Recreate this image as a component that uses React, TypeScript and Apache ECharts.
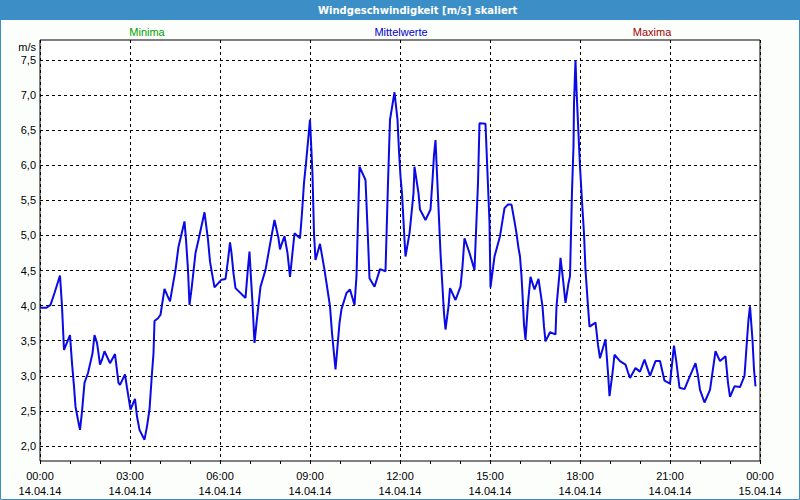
import React, { useEffect, useRef } from "react";
import * as echarts from "echarts";

const TITLE = "Windgeschwindigkeit [m/s] skaliert";
const legendLabels = ["Minima", "Mittelwerte", "Maxima"];
const yTickValues = [2.0, 2.5, 3.0, 3.5, 4.0, 4.5, 5.0, 5.5, 6.0, 6.5, 7.0, 7.5];
const startDay = "14.04.14";
const nextDay = "15.04.14";

// minutes since 00:00 on 14.04.14
const timesMin = [
  0, 13, 21, 29, 40, 44, 48, 52, 60, 64, 68, 71, 76, 80, 84, 89, 96, 105, 109, 114,
  117, 120, 124, 129, 140, 150, 157, 160, 170, 174, 181, 190, 194, 199, 209, 214, 219, 224, 227, 229,
  236, 241, 249, 255, 260, 271, 277, 289, 292, 296, 299, 303, 311, 317, 329, 336, 340, 344, 349, 363,
  371, 376, 380, 383, 387, 391, 411, 415, 419, 421, 425, 429, 433, 441, 451, 463, 469, 477, 480, 483,
  489, 495, 500, 509, 520, 524, 528, 532, 540, 545, 548, 551, 560, 569, 576, 580, 584, 591, 595, 599,
  603, 613, 620, 629, 633, 636, 639, 651, 656, 659, 669, 680, 691, 696, 700, 709, 715, 718, 721, 724,
  729, 731, 739, 747, 749, 757, 760, 771, 781, 785, 788, 791, 796, 801, 808, 811, 817, 820, 831, 841,
  845, 849, 859, 869, 876, 879, 891, 899, 901, 909, 920, 929, 936, 943, 949, 953, 957, 960, 963, 965,
  968, 971, 976, 981, 989, 997, 1005, 1008, 1011, 1020, 1031, 1033, 1039, 1041, 1045, 1051, 1057, 1060, 1064, 1067,
  1068, 1071, 1073, 1076, 1080, 1085, 1088, 1091, 1096, 1099, 1105, 1111, 1116, 1120, 1131, 1136, 1139, 1145, 1149, 1160,
  1171, 1176, 1180, 1191, 1200, 1209, 1220, 1231, 1240, 1249, 1260, 1265, 1268, 1273, 1279, 1289, 1300, 1311, 1316, 1320,
  1329, 1340, 1351, 1360, 1371, 1376, 1380, 1389, 1400, 1409, 1415, 1417, 1420, 1425, 1428, 1431,
];

const speeds = [
  3.97, 3.97, 4.01, 4.18, 4.43, 3.99, 3.37, 3.44, 3.58, 3.18, 2.85, 2.56, 2.37, 2.23, 2.49, 2.9, 3.04, 3.32, 3.58, 3.47,
  3.32, 3.16, 3.23, 3.35, 3.18, 3.31, 2.9, 2.87, 3.02, 2.83, 2.52, 2.67, 2.42, 2.23, 2.09, 2.28, 2.52, 3.04, 3.32, 3.78,
  3.82, 3.87, 4.24, 4.14, 4.06, 4.51, 4.84, 5.2, 4.94, 4.51, 4.01, 4.23, 4.75, 4.94, 5.33, 4.94, 4.63, 4.46, 4.26, 4.37,
  4.38, 4.65, 4.9, 4.75, 4.46, 4.25, 4.11, 4.46, 4.77, 4.51, 4.03, 3.47, 3.75, 4.27, 4.51, 4.99, 5.22, 4.96, 4.8, 4.87,
  4.99, 4.75, 4.41, 5.03, 4.96, 5.32, 5.75, 6.03, 6.65, 5.87, 5.03, 4.65, 4.88, 4.51, 4.18, 3.99, 3.61, 3.09, 3.42, 3.75,
  3.95, 4.18, 4.23, 4.01, 4.42, 5.22, 5.98, 5.79, 4.94, 4.39, 4.27, 4.52, 4.49, 5.75, 6.65, 7.04, 6.65, 6.2, 5.84, 5.6,
  4.94, 4.7, 5.03, 5.6, 5.98, 5.6, 5.37, 5.22, 5.37, 5.79, 6.15, 6.36, 5.56, 4.75, 3.89, 3.66, 3.99, 4.25, 4.08, 4.27,
  4.56, 4.96, 4.75, 4.51, 5.75, 6.6, 6.59, 5.18, 4.26, 4.7, 4.99, 5.39, 5.44, 5.44, 5.2, 5.03, 4.82, 4.7, 4.42, 4.16,
  3.73, 3.51, 4.04, 4.41, 4.23, 4.38, 3.99, 3.7, 3.49, 3.62, 3.59, 3.99, 4.46, 4.68, 4.44, 4.04, 4.32, 4.42, 5.63, 6.27,
  6.89, 7.5, 7.08, 6.6, 5.98, 5.37, 5.03, 4.51, 3.99, 3.7, 3.73, 3.76, 3.44, 3.25, 3.52, 3.04, 2.71, 3.04, 3.3, 3.21,
  3.16, 3.05, 2.97, 3.11, 3.06, 3.23, 3.0, 3.21, 3.21, 2.93, 2.89, 3.23, 3.43, 3.18, 2.83, 2.81, 3.0, 3.18, 3.0, 2.8,
  2.62, 2.8, 3.35, 3.21, 3.28, 2.9, 2.7, 2.85, 2.84, 3.0, 3.61, 3.8, 3.99, 3.51, 3.09, 2.85,
];

const FONT = "'Liberation Sans', Arial, sans-serif";
const TITLE_FONT = "'DejaVu Sans', Verdana, sans-serif";

export default function App() {
  const ref = useRef<HTMLDivElement>(null);
  useEffect(() => {
    document.body.style.margin = "0";
    if (!ref.current) return;
    const chart = echarts.init(ref.current, undefined, { renderer: "svg" });
    const frameTop = 40;
    const frameBottom = 461;
    const yTop = 60; // pixel of 7.5
    const yBottom = 446; // pixel of 2.0
    const pxPerUnit = (yBottom - yTop) / (yTickValues[yTickValues.length - 1] - yTickValues[0]);
    const frameMax = yTickValues[yTickValues.length - 1] + (yTop - frameTop) / pxPerUnit;
    const frameMin = yTickValues[0] - (frameBottom - yBottom) / pxPerUnit;
    const data = timesMin.map((t, i) => [t, speeds[i]]);
    const fmtX = (v: number) => {
      const h = Math.floor(v / 60) % 24;
      const day = v >= 1440 ? nextDay : startDay;
      return (h < 10 ? "0" : "") + h + ":00\n" + day;
    };
    const option: any = {
      animation: false,
      backgroundColor: "#fcfefc",
      textStyle: { fontFamily: FONT },
      grid: [
        {
          left: 40, top: frameTop, width: 720, height: frameBottom - frameTop,
          show: true, borderColor: "#000", borderWidth: 1, backgroundColor: "#ffffff",
        },
        { left: 40, top: yTop, width: 720, height: yBottom - yTop },
      ],
      xAxis: [
        {
          gridIndex: 0, type: "value", min: 0, max: 1440, interval: 180,
          axisLine: { show: false },
          axisTick: { show: true, length: 3, lineStyle: { color: "#000" } },
          minorTick: { show: true, splitNumber: 3, length: 3, lineStyle: { color: "#000" } },
          splitLine: { show: true, lineStyle: { color: "#000", type: [3, 3], width: 1 } },
          axisLabel: {
            formatter: fmtX, color: "#000", fontSize: 11, fontFamily: FONT,
            lineHeight: 15, margin: 7, showMinLabel: true, showMaxLabel: true,
          },
        },
        { gridIndex: 1, type: "value", min: 0, max: 1440, show: false, splitLine: { show: false } },
      ],
      yAxis: [
        { gridIndex: 0, type: "value", min: frameMin, max: frameMax, show: false, splitLine: { show: false } },
        {
          gridIndex: 1, type: "value", min: 2, max: 7.5, interval: 0.5,
          axisLine: { show: false }, axisTick: { show: false },
          splitLine: { show: true, lineStyle: { color: "#000", type: [3, 3], width: 1 } },
          axisLabel: {
            formatter: (v: number) => v.toFixed(1).replace(".", ","),
            color: "#000", fontSize: 11, fontFamily: FONT, margin: 4,
          },
        },
      ],
      series: [
        {
          type: "line", xAxisIndex: 1, yAxisIndex: 1, data, showSymbol: false,
          clip: false, lineStyle: { color: "#0a0ae6", width: 2 }, z: 5,
        },
      ],
      graphic: [
        { type: "rect", shape: { x: 0, y: 0, width: 800, height: 20 }, style: { fill: "#3c8fc6" }, z: 10 },
        {
          type: "text", x: 318, y: 10, z: 11,
          style: { text: TITLE, fill: "#fff", font: `bold 10px ${TITLE_FONT}`, align: "left", verticalAlign: "middle" },
        },
        {
          type: "rect", shape: { x: 0.5, y: 0.5, width: 799, height: 499 },
          style: { fill: "none", stroke: "#3c8fc6", lineWidth: 1 }, z: 10,
        },
        {
          type: "text", x: 147, y: 32, z: 11,
          style: { text: legendLabels[0], fill: "#00a000", font: `11px ${FONT}`, align: "center", verticalAlign: "middle" },
        },
        {
          type: "text", x: 401, y: 32, z: 11,
          style: { text: legendLabels[1], fill: "#0000cc", font: `11px ${FONT}`, align: "center", verticalAlign: "middle" },
        },
        {
          type: "text", x: 652, y: 32, z: 11,
          style: { text: legendLabels[2], fill: "#a00000", font: `11px ${FONT}`, align: "center", verticalAlign: "middle" },
        },
        {
          type: "text", x: 36, y: 47, z: 11,
          style: { text: "m/s", fill: "#000", font: `11px ${FONT}`, align: "right", verticalAlign: "middle" },
        },
      ],
    };
    chart.setOption(option);
    return () => chart.dispose();
  }, []);
  return <div ref={ref} style={{ width: 800, height: 500 }} />;
}
